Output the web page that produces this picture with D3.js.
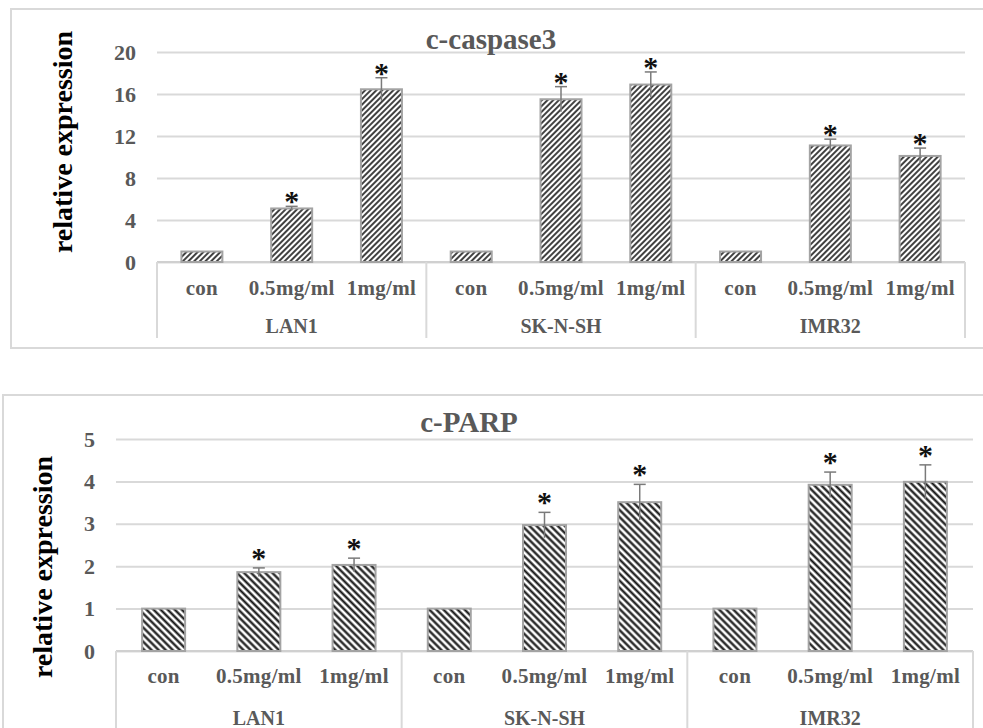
<!DOCTYPE html>
<html>
<head>
<meta charset="utf-8">
<script src="https://cdn.jsdelivr.net/npm/d3@7"></script>
<style>
  body { margin: 0; background: #fff; }
  svg text { font-family: "Liberation Serif", "Times New Roman", serif; font-weight: bold; }
</style>
</head>
<body>
<div id="chart"></div>
<script>
/* Two grouped bar charts: c-caspase3 and c-PARP relative expression */

const cellLines = ["LAN1", "SK-N-SH", "IMR32"];
const doses = ["con", "0.5mg/ml", "1mg/ml"];

const caspaseValues = [1, 5.1, 16.45, 1, 15.5, 16.9, 1, 11.1, 10.1];
const caspaseErrors = [0, 0.2, 1.1, 0, 1.2, 1.2, 0, 0.6, 0.75];
const caspaseStars = [0, 1, 1, 0, 1, 1, 0, 1, 1];
const caspaseTicks = [0, 4, 8, 12, 16, 20];

const parpValues = [1, 1.86, 2.03, 1, 2.97, 3.51, 1, 3.92, 3.99];
const parpErrors = [0, 0.1, 0.16, 0, 0.3, 0.42, 0, 0.3, 0.4];
const parpStars = [0, 1, 1, 0, 1, 1, 0, 1, 1];
const parpTicks = [0, 1, 2, 3, 4, 5];

const W = 983, H = 728;

const svg = d3
  .select("#chart")
  .append("svg")
  .attr("width", W)
  .attr("height", H);

const defs = svg.append("defs");

function addPattern(id, angle, size, lineW) {
  const p = defs
    .append("pattern")
    .attr("id", id)
    .attr("patternUnits", "userSpaceOnUse")
    .attr("width", size)
    .attr("height", size)
    .attr("patternTransform", "rotate(" + angle + ")");
  p.append("rect").attr("width", size).attr("height", size).attr("fill", "#fff");
  p.append("line")
    .attr("x1", size / 2)
    .attr("x2", size / 2)
    .attr("y1", 0)
    .attr("y2", size)
    .attr("stroke", "#111")
    .attr("stroke-width", lineW);
}
addPattern("hatch-up", 45, 4, 1.6);
addPattern("hatch-down", -45, 5, 2.2);

/* draw one panel */
function drawPanel(cfg) {
  const g = svg.append("g");

  // outer frame
  g.append("rect")
    .attr("x", cfg.box[0])
    .attr("y", cfg.box[1])
    .attr("width", cfg.box[2])
    .attr("height", cfg.box[3])
    .attr("fill", "none")
    .attr("stroke", "#d9d9d9")
    .attr("stroke-width", 2);

  const labels = [];
  cellLines.forEach((c) => doses.forEach((d) => labels.push(c + "|" + d)));

  const x = d3
    .scaleBand()
    .domain(labels)
    .range([cfg.left, cfg.right]);

  const y = d3
    .scaleLinear()
    .domain([0, d3.max(cfg.ticks)])
    .range([cfg.y0, cfg.yTop]);

  const cx = (i) => x(labels[i]) + x.bandwidth() / 2;

  // gridlines + tick labels
  const yAxis = d3
    .axisLeft(y)
    .tickValues(cfg.ticks)
    .tickFormat(d3.format("d"))
    .tickSize(-(cfg.right - cfg.left))
    .tickPadding(21);

  const ya = g
    .append("g")
    .attr("transform", "translate(" + cfg.left + ",0)")
    .call(yAxis);
  ya.select(".domain").remove();
  ya.selectAll(".tick line").attr("stroke", "#d9d9d9").attr("stroke-width", 2);
  ya.selectAll(".tick text")
    .attr("fill", "#595959")
    .style("font-size", "22px");

  // category box below axis
  g.append("line")
    .attr("x1", cfg.left)
    .attr("x2", cfg.right)
    .attr("y1", cfg.y0)
    .attr("y2", cfg.y0)
    .attr("stroke", "#d0d0d0")
    .attr("stroke-width", 2);

  const groupEdges = [0, 3, 6, 9].map((i) =>
    i < 9 ? x(labels[i]) : cfg.right
  );
  g.selectAll(".divider")
    .data(groupEdges)
    .enter()
    .append("line")
    .attr("x1", (d) => d)
    .attr("x2", (d) => d)
    .attr("y1", cfg.y0)
    .attr("y2", cfg.divBottom)
    .attr("stroke", "#d9d9d9")
    .attr("stroke-width", 2);

  g.selectAll(".cat-label")
    .data(labels)
    .enter()
    .append("text")
    .attr("x", (d, i) => cx(i))
    .attr("y", cfg.catY)
    .attr("text-anchor", "middle")
    .attr("fill", "#595959")
    .style("font-size", "21px")
    .style("letter-spacing", "0.3px")
    .text((d) => d.split("|")[1]);

  g.selectAll(".group-label")
    .data(cellLines)
    .enter()
    .append("text")
    .attr("x", (d, i) => (groupEdges[i] + groupEdges[i + 1]) / 2)
    .attr("y", cfg.groupY)
    .attr("text-anchor", "middle")
    .attr("fill", "#595959")
    .style("font-size", "20px")
    .style("font-weight", "700")
    .text((d) => d);

  // bars
  const bw = cfg.barW;
  g.selectAll(".bar")
    .data(cfg.values)
    .enter()
    .append("rect")
    .attr("x", (d, i) => cx(i) - bw / 2)
    .attr("y", (d) => y(d))
    .attr("width", bw)
    .attr("height", (d) => cfg.y0 - y(d))
    .attr("fill", "url(#" + cfg.pattern + ")")
    .attr("stroke", "#a3a3a3")
    .attr("stroke-width", 2);

  // error bars
  cfg.values.forEach(function (v, i) {
    const e = cfg.errors[i];
    if (!e) return;
    g.append("line")
      .attr("x1", cx(i))
      .attr("x2", cx(i))
      .attr("y1", y(v - e))
      .attr("y2", y(v + e))
      .attr("stroke", "#7a7a7a")
      .attr("stroke-width", 1.5);
    g.append("line")
      .attr("x1", cx(i) - 6)
      .attr("x2", cx(i) + 6)
      .attr("y1", y(v + e))
      .attr("y2", y(v + e))
      .attr("stroke", "#7a7a7a")
      .attr("stroke-width", 1.5);
  });

  // significance stars
  const starIdx = d3.range(cfg.values.length).filter((i) => cfg.stars[i]);
  g.selectAll(".star")
    .data(starIdx)
    .enter()
    .append("text")
    .attr("x", (i) => cx(i))
    .attr("y", (i) => y(cfg.values[i] + cfg.errors[i]) - cfg.starOff + 14)
    .attr("text-anchor", "middle")
    .attr("fill", "#111")
    .style("font-size", "30px")
    .style("font-weight", "bold")
    .text("*");

  // title
  g.append("text")
    .attr("x", cfg.title[1])
    .attr("y", cfg.title[2])
    .attr("text-anchor", "middle")
    .attr("fill", "#595959")
    .style("font-size", "29px")
    .text(cfg.title[0]);

  // y axis title
  g.append("text")
    .attr("transform", "translate(" + cfg.yTitle[0] + "," + cfg.yTitle[1] + ")rotate(-90)")
    .attr("text-anchor", "middle")
    .attr("fill", "#000")
    .style("font-size", "28px")
    .text("relative expression");
}

drawPanel({
  box: [11, 9, 1000, 339],
  left: 157,
  right: 965,
  y0: 262,
  yTop: 52,
  ticks: caspaseTicks,
  values: caspaseValues,
  errors: caspaseErrors,
  stars: caspaseStars,
  barW: 41,
  pattern: "hatch-up",
  starOff: 9,
  catY: 295,
  groupY: 333,
  divBottom: 338,
  title: ["c-caspase3", 491, 49],
  yTitle: [72, 142],
});

drawPanel({
  box: [3, 395, 1000, 400],
  left: 116,
  right: 973,
  y0: 651,
  yTop: 439,
  ticks: parpTicks,
  values: parpValues,
  errors: parpErrors,
  stars: parpStars,
  barW: 43,
  pattern: "hatch-down",
  starOff: 14,
  catY: 683,
  groupY: 725,
  divBottom: 730,
  title: ["c-PARP", 469, 432],
  yTitle: [52, 567],
});
</script>
</body>
</html>
